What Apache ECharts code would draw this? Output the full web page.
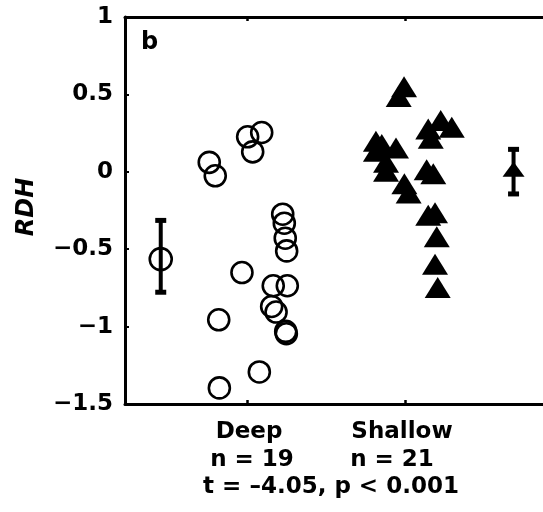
<!DOCTYPE html>
<html><head><meta charset="utf-8">
<script src="https://cdn.jsdelivr.net/npm/echarts@6/dist/echarts.min.js"></script>
<style>html,body{margin:0;padding:0;background:#fff}#c{width:543px;height:512px}</style>
</head><body><div id="c"></div>
<script>
// ---- data ----
const categories = ['Deep', 'Shallow'];
const nLabels = ['n = 19', 'n = 21'];
const statText = 't = \u20134.05, p < 0.001';
const panelLabel = 'b';
const yName = 'RDH';
const categoryX = [1, 2];

const deepX = [0.761, 0.799, 1.004, 1.093, 1.036, 1.226, 1.236, 1.242, 1.251, 0.968, 1.166, 1.255, 1.156, 1.184, 1.245, 1.249, 0.821, 1.078, 0.825];
const deepY = [0.061, -0.026, 0.226, 0.254, 0.129, -0.274, -0.332, -0.429, -0.511, -0.651, -0.736, -0.736, -0.870, -0.906, -1.031, -1.046, -0.956, -1.293, -1.396];

const shallowX = [1.994, 1.960, 2.226, 2.296, 2.147, 2.163, 1.816, 1.816, 1.943, 1.880, 1.880, 1.853, 1.996, 2.023, 2.137, 2.179, 2.147, 2.190, 2.201, 2.190, 2.207];
const shallowY = [0.550, 0.487, 0.331, 0.288, 0.277, 0.217, 0.197, 0.132, 0.153, 0.061, 0.003, 0.177, -0.077, -0.137, 0.013, -0.013, -0.281, -0.264, -0.419, -0.597, -0.747];

const meanX = [0.454, 2.687];
const meanY = [-0.564, 0.016];
const lowerY = [-0.778, -0.143];
const upperY = [-0.314, 0.145];

// ---- chart ----
const FONT = '"DejaVu Sans", sans-serif';
const chart = echarts.init(document.getElementById('c'), null, {renderer: 'canvas'});

const xCommon = {
  type: 'value', min: 0.2278, max: 2.8734,
  axisLine: {show: true, onZero: false, lineStyle: {color: '#000', width: 3}},
  axisTick: {show: true, inside: true, length: 4, customValues: categoryX, lineStyle: {color: '#000', width: 2.5}},
  axisLabel: {show: false},
  splitLine: {show: false}
};

chart.setOption({
  animation: false,
  grid: {left: 125, right: 0, top: 17, bottom: 108, containLabel: false},
  xAxis: [
    Object.assign({position: 'bottom'}, xCommon),
    Object.assign({position: 'top'}, xCommon)
  ],
  yAxis: {
    type: 'value', min: -1.5, max: 1, interval: 0.5,
    axisLine: {show: true, onZero: false, lineStyle: {color: '#000', width: 3}},
    axisTick: {show: true, inside: true, length: 4, lineStyle: {color: '#000', width: 2}},
    axisLabel: {
      show: true, margin: 12, color: '#000', fontFamily: FONT, fontWeight: 'bold', fontSize: 23,
      showMinLabel: true, showMaxLabel: true,
      formatter: v => String(v).replace('-', '\u2212')
    },
    splitLine: {show: false}
  },
  series: [
    {
      type: 'scatter', name: categories[0],
      data: deepX.map((x, i) => [x, deepY[i]]),
      symbol: 'circle', symbolSize: 21,
      itemStyle: {color: 'rgba(0,0,0,0)', borderColor: '#000', borderWidth: 2.6, opacity: 1},
      z: 2
    },
    {
      type: 'scatter', name: categories[1],
      data: shallowX.map((x, i) => [x, shallowY[i]]),
      symbol: 'triangle', symbolSize: [26, 21],
      itemStyle: {color: '#000', opacity: 1},
      z: 2
    },
    {
      type: 'custom',
      data: meanX.map((x, i) => [x, lowerY[i], upperY[i]]),
      renderItem: (params, api) => {
        const x = api.value(0);
        const pLo = api.coord([x, api.value(1)]);
        const pHi = api.coord([x, api.value(2)]);
        const cap = 11, capH = 5;
        return {type: 'group', children: [
          {type: 'line', shape: {x1: pLo[0], y1: pLo[1], x2: pHi[0], y2: pHi[1]}, style: {stroke: '#000', lineWidth: 4}},
          {type: 'rect', shape: {x: pHi[0] - cap / 2, y: pHi[1] - capH / 2, width: cap, height: capH}, style: {fill: '#000'}},
          {type: 'rect', shape: {x: pLo[0] - cap / 2, y: pLo[1] - capH / 2, width: cap, height: capH}, style: {fill: '#000'}}
        ]};
      },
      z: 3
    },
    {
      type: 'scatter',
      data: [[meanX[0], meanY[0]]],
      symbol: 'circle', symbolSize: 22,
      itemStyle: {color: 'rgba(0,0,0,0)', borderColor: '#000', borderWidth: 2.6, opacity: 1},
      z: 4
    },
    {
      type: 'scatter',
      data: [[meanX[1], meanY[1]]],
      symbol: 'triangle', symbolSize: [22, 15],
      itemStyle: {color: '#000', opacity: 1},
      z: 4
    }
  ]
});

// text annotations placed relative to axis positions
const px = v => chart.convertToPixel({xAxisIndex: 0}, v);
const txt = (text, x, y, font, align) => ({
  type: 'text', x: x, y: y,
  style: {text: text, font: font, fill: '#000', textAlign: align || 'center', textVerticalAlign: 'middle'}
});
const F = 'bold 23px ' + FONT;
chart.setOption({
  graphic: [
    txt(panelLabel, 141, 43, 'bold 24px ' + FONT, 'left'),
    Object.assign(txt(yName, 0, 0, 'italic bold 24px ' + FONT), {x: 27, y: 207, rotation: Math.PI / 2}),
    txt(categories[0], px(categoryX[0]) + 2, 432, F),
    txt(categories[1], px(categoryX[1]) - 3, 432, F),
    txt(nLabels[0], px(categoryX[0]) + 5, 460, F),
    txt(nLabels[1], px(categoryX[1]) - 13, 460, F),
    txt(statText, (px(categoryX[0]) + px(categoryX[1])) / 2 + 5, 487, F)
  ]
});
</script>
</body></html>
